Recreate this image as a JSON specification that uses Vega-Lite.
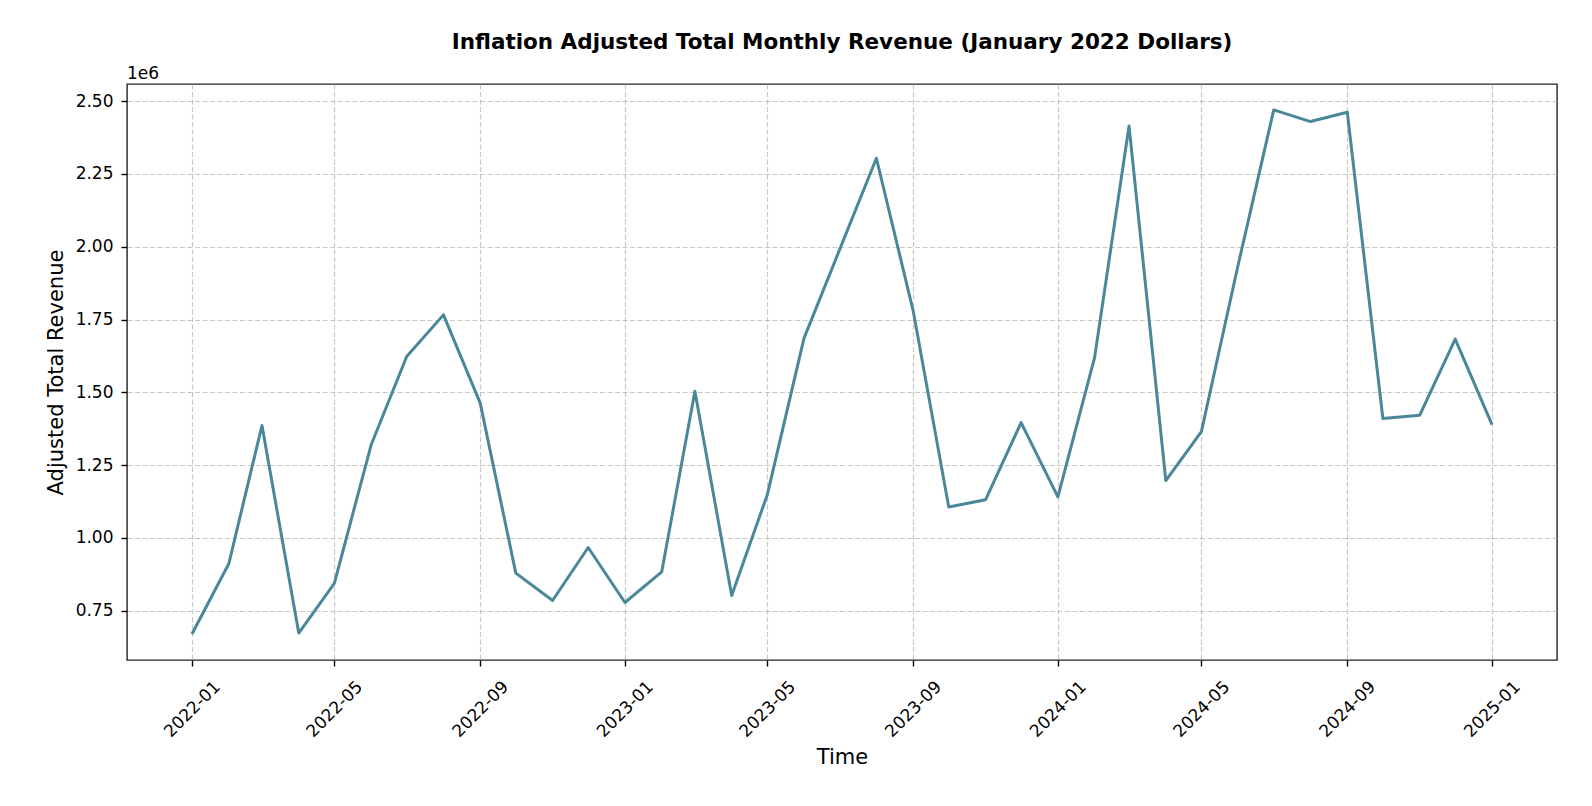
{
  "$schema": "https://vega.github.io/schema/vega-lite/v6.json",
  "width": 1430,
  "height": 576,
  "autosize": "none",
  "padding": {"left": 127, "top": 84, "right": 35, "bottom": 146},
  "background": "white",
  "title": {
    "text": "Inflation Adjusted Total Monthly Revenue (January 2022 Dollars)",
    "font": "DejaVu Sans",
    "fontSize": 21.5,
    "fontWeight": "bold",
    "color": "#000000",
    "anchor": "middle",
    "frame": "group",
    "offset": 12
  },
  "config": {
    "view": {"stroke": "#222222", "strokeWidth": 1.4},
    "axis": {
      "domain": false,
      "grid": true,
      "gridColor": "#b0b0b0",
      "gridOpacity": 0.7,
      "gridDash": [5, 2.5],
      "gridWidth": 1.2,
      "tickColor": "#000000",
      "tickSize": 6,
      "tickWidth": 1.4,
      "labelFont": "DejaVu Sans",
      "labelFontSize": 17,
      "labelColor": "#000000",
      "titleFont": "DejaVu Sans",
      "titleFontSize": 21,
      "titleFontWeight": "normal",
      "titleColor": "#000000"
    }
  },
  "data": {
    "values": [
      {"month": "2022-01-01", "revenue": 670000},
      {"month": "2022-02-01", "revenue": 911000},
      {"month": "2022-03-01", "revenue": 1386000},
      {"month": "2022-04-01", "revenue": 673000},
      {"month": "2022-05-01", "revenue": 844000},
      {"month": "2022-06-01", "revenue": 1319000},
      {"month": "2022-07-01", "revenue": 1623000},
      {"month": "2022-08-01", "revenue": 1766000},
      {"month": "2022-09-01", "revenue": 1463000},
      {"month": "2022-10-01", "revenue": 879000},
      {"month": "2022-11-01", "revenue": 785000},
      {"month": "2022-12-01", "revenue": 967000},
      {"month": "2023-01-01", "revenue": 778000},
      {"month": "2023-02-01", "revenue": 883000},
      {"month": "2023-03-01", "revenue": 1504000},
      {"month": "2023-04-01", "revenue": 802000},
      {"month": "2023-05-01", "revenue": 1148000},
      {"month": "2023-06-01", "revenue": 1686000},
      {"month": "2023-07-01", "revenue": 1990000},
      {"month": "2023-08-01", "revenue": 2304000},
      {"month": "2023-09-01", "revenue": 1780000},
      {"month": "2023-10-01", "revenue": 1106000},
      {"month": "2023-11-01", "revenue": 1131000},
      {"month": "2023-12-01", "revenue": 1396000},
      {"month": "2024-01-01", "revenue": 1141000},
      {"month": "2024-02-01", "revenue": 1620000},
      {"month": "2024-03-01", "revenue": 2415000},
      {"month": "2024-04-01", "revenue": 1197000},
      {"month": "2024-05-01", "revenue": 1365000},
      {"month": "2024-06-01", "revenue": 1938000},
      {"month": "2024-07-01", "revenue": 2470000},
      {"month": "2024-08-01", "revenue": 2430000},
      {"month": "2024-09-01", "revenue": 2462000},
      {"month": "2024-10-01", "revenue": 1410000},
      {"month": "2024-11-01", "revenue": 1421000},
      {"month": "2024-12-01", "revenue": 1683000},
      {"month": "2025-01-01", "revenue": 1389000}
    ]
  },
  "layer": [
    {
      "mark": {"type": "line", "color": "#4a8799", "strokeWidth": 3, "strokeJoin": "round", "strokeCap": "butt"},
      "encoding": {
        "x": {
          "field": "month",
          "type": "temporal",
          "scale": {"type": "utc", "domain": [1636260480000, 1740424320000], "nice": false},
          "axis": {
            "title": "Time",
            "format": "%Y-%m",
            "values": [1640995200000, 1651363200000, 1661990400000, 1672531200000, 1682899200000, 1693526400000, 1704067200000, 1714521600000, 1725148800000, 1735689600000],
            "labelAngle": -45,
            "labelAlign": "center",
            "labelBaseline": "middle",
            "labelPadding": 43,
            "labelOverlap": false,
            "labelFlush": false,
            "titlePadding": 7
          }
        },
        "y": {
          "field": "revenue",
          "type": "quantitative",
          "scale": {"domain": [580600, 2559000], "nice": false, "zero": false},
          "axis": {
            "title": "Adjusted Total Revenue",
            "values": [750000, 1000000, 1250000, 1500000, 1750000, 2000000, 2250000, 2500000],
            "labelExpr": "format(datum.value / 1000000, '.2f')",
            "labelPadding": 8,
            "titlePadding": 9
          }
        }
      }
    },
    {
      "data": {"values": [{}]},
      "mark": {"type": "text", "text": "1e6", "align": "left", "baseline": "alphabetic", "dy": -5, "font": "DejaVu Sans", "fontSize": 17, "color": "#000000"},
      "encoding": {
        "x": {"datum": {"year": 2021, "month": 11, "date": 7, "hours": 4, "minutes": 48, "utc": true}, "type": "temporal"},
        "y": {"datum": 2559000, "type": "quantitative"}
      }
    }
  ]
}
